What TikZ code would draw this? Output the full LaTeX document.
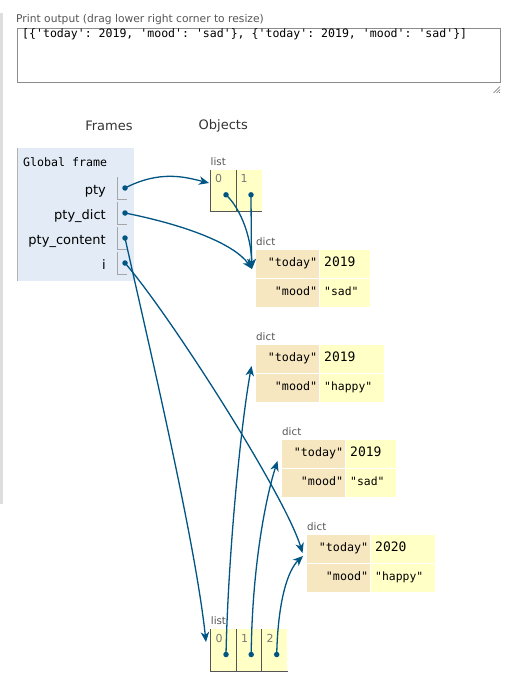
\documentclass[tikz,border=0pt]{standalone}
\usepackage{fontspec}
\setmainfont{DejaVu Sans}
\setmonofont{DejaVu Sans Mono}
\usetikzlibrary{arrows.meta}
\definecolor{framebg}{HTML}{E2EBF6}
\definecolor{listbg}{HTML}{FFFFC6}
\definecolor{keybg}{HTML}{F7E7C1}
\definecolor{ptr}{HTML}{005583}
\definecolor{edgec}{HTML}{555555}
\definecolor{labelgray}{HTML}{555555}
\definecolor{idxgray}{HTML}{777777}
\tikzset{
  objlbl/.style={font=\fontsize{10.3}{12}\selectfont, text=labelgray, inner sep=0pt, anchor=base west},
  varname/.style={font=\fontsize{13}{15}\selectfont, inner sep=0pt, anchor=base east},
  header/.style={font=\fontsize{13}{15}\selectfont, text=black!80, inner sep=0pt},
  ptrdot/.style={circle, fill=ptr, inner sep=0pt, minimum size=5.5pt},
  ptrline/.style={draw=ptr, line width=1.3pt, -{Stealth[length=10pt,width=8.5pt,inset=3pt]}},
  bracket/.style={draw=gray!70, line width=0.8pt},
  listcell/.style={fill=listbg, anchor=north west, minimum width=25.5pt, minimum height=42pt, inner sep=0pt},
  listedge/.style={draw=edgec, line width=0.9pt},
  idxlbl/.style={font=\fontsize{11}{13}\selectfont, text=idxgray, inner sep=0pt},
  keycell/.style={fill=keybg, anchor=north west, inner xsep=2pt, inner ysep=0pt, text width=59pt, align=right,
     minimum height=27.5pt, text height=8.5pt, text depth=2.5pt, font=\ttfamily\fontsize{11.7}{13}\selectfont},
  valcell/.style={fill=listbg, anchor=north west, inner xsep=4pt, inner ysep=0pt, align=left,
     minimum height=27.5pt, text height=8.5pt, text depth=2.5pt},
  numtxt/.style={font=\ttfamily\fontsize{13}{15}\selectfont},
  strtxt/.style={font=\ttfamily\fontsize{11.4}{13}\selectfont},
}
% #1 name, #2 x, #3 y, #4 value text width, #5 value1, #6 value2
\newcommand{\dictobj}[6]{%
  \node[objlbl] (#1lbl) at (#2,#3-5) {dict};
  \node[keycell] (#1k1) at (#2,#3) {"today"};
  \node[keycell] (#1k2) at (#2,#3+29) {"mood"};
  \node[valcell, numtxt, text width=#4] (#1v1) at (#2+64,#3) {#5};
  \node[valcell, strtxt, text width=#4] (#1v2) at (#2+64,#3+29) {#6};
}
\begin{document}
\begin{tikzpicture}[x=1pt,y=-1pt]
\useasboundingbox (0,0) rectangle (516,695);
% left page rule
\fill[black!13] (0,13) rectangle (2.5,504);
% print output
\node[anchor=base west, inner sep=0pt, text=labelgray, font=\fontsize{10.7}{12}\selectfont] (plabel) at (16,22.5) {Print output (drag lower right corner to resize)};
\node[draw=black!45, line width=1pt, anchor=north west, minimum width=483pt, minimum height=54pt, inner sep=0pt] (tarea) at (16.5,28.5) {};
\node[anchor=base west, inner sep=0pt, font=\ttfamily\fontsize{11.55}{13}\selectfont] (ptext) at (22,37.5) {[\{'today': 2019, 'mood': 'sad'\}, \{'today': 2019, 'mood': 'sad'\}]};
\draw[black!60, line width=0.6pt] (500,86.5) -- (493.5,93) (500,89.5) -- (496.5,93) (500,92) -- (499,93);
% headers
\node[header] (hframes) at (109,125.5) {Frames};
\node[header] (hobjects) at (223.3,125.5) {Objects};
% global frame
\node[fill=framebg, anchor=north west, minimum width=117pt, minimum height=133pt, inner sep=0pt] (gf) at (17,148) {};
\draw[black!30, line width=0.8pt] (gf.north west) -- (gf.south west);
\node[anchor=base west, inner sep=0pt, font=\ttfamily\fontsize{11.6}{13}\selectfont] (gftitle) at (23,166) {Global frame};
\node[varname] (vpty) at (106,194) {pty};
\node[varname] (vptyd) at (106,219) {pty\_dict};
\node[varname] (vptyc) at (106,244) {pty\_content};
\node[varname] (vi) at (106,269) {i};
\draw[bracket] (117,177) -- (117,199.5) -- (126.5,199.5);
\draw[bracket] (117,202) -- (117,224.5) -- (126.5,224.5);
\draw[bracket] (117,227) -- (117,249.5) -- (126.5,249.5);
\draw[bracket] (117,252) -- (117,274.5) -- (126.5,274.5);
\node[ptrdot] (dpty) at (125,188) {};
\node[ptrdot] (dptyd) at (125,213) {};
\node[ptrdot] (dptyc) at (125,238) {};
\node[ptrdot] (di) at (125,263) {};
% list 1
\node[objlbl] (l1lbl) at (210.5,165.5) {list};
\node[listcell] (l1c0) at (210.5,169.5) {};
\node[listcell] (l1c1) at (236,169.5) {};
\draw[listedge] (l1c0.north west) -- (l1c0.south west) -- (l1c1.south east);
\draw[listedge] (l1c1.north west) -- (l1c1.south west);
\node[idxlbl] (l1i0) at (218.5,178) {0};
\node[idxlbl] (l1i1) at (244,178) {1};
\node[ptrdot] (l1d0) at (226,194.8) {};
\node[ptrdot] (l1d1) at (251,194.8) {};
% dicts
\dictobj{da}{256}{250}{41.5pt}{2019}{"sad"}
\dictobj{db}{256}{345}{55.5pt}{2019}{"happy"}
\dictobj{dc}{282}{440}{41.5pt}{2019}{"sad"}
\dictobj{dd}{307}{535}{55.5pt}{2020}{"happy"}
% list 2
\node[objlbl] (l2lbl) at (210.7,624.3) {list};
\node[listcell] (l2c0) at (210.7,629) {};
\node[listcell] (l2c1) at (236.2,629) {};
\node[listcell] (l2c2) at (261.7,629) {};
\draw[listedge] (l2c0.north west) -- (l2c0.south west) -- (l2c2.south east);
\draw[listedge] (l2c1.north west) -- (l2c1.south west);
\draw[listedge] (l2c2.north west) -- (l2c2.south west);
\node[idxlbl] (l2i0) at (219,638.3) {0};
\node[idxlbl] (l2i1) at (244.5,638.3) {1};
\node[idxlbl] (l2i2) at (270,638.3) {2};
\node[ptrdot] (l2d0) at (226,654.5) {};
\node[ptrdot] (l2d1) at (251.2,654.5) {};
\node[ptrdot] (l2d2) at (276.7,654.5) {};
% arrow tips
\coordinate (tl1) at (209,183);
\coordinate (tda) at (252,269);
\coordinate (tdb) at (251.5,269);
\coordinate (tdc) at (251.5,366);
\coordinate (tdd) at (277.5,461);
\coordinate (tde) at (302.5,553);
\coordinate (tdf) at (303,556);
\coordinate (tl2) at (206,642);
% connectors
\draw[ptrline] (dpty.center) .. controls (160,170) and (185,177) .. (tl1);
\draw[ptrline] (dptyd.center) .. controls (190,226) and (235,245) .. (tda);
\draw[ptrline] (l1d0.center) .. controls (240,208) and (251,235) .. (tda);
\draw[ptrline] (l1d1.center) -- (tdb);
\draw[ptrline] (dptyc.center) .. controls (150,350) and (195,540) .. (tl2);
\draw[ptrline] (di.center) .. controls (170,315) and (285,495) .. (tde);
\draw[ptrline] (l2d0.center) .. controls (228,560) and (240,430) .. (tdc);
\draw[ptrline] (l2d1.center) .. controls (252,570) and (265,500) .. (tdd);
\draw[ptrline] (l2d2.center) .. controls (278,600) and (288,570) .. (tdf);
\end{tikzpicture}
\end{document}
